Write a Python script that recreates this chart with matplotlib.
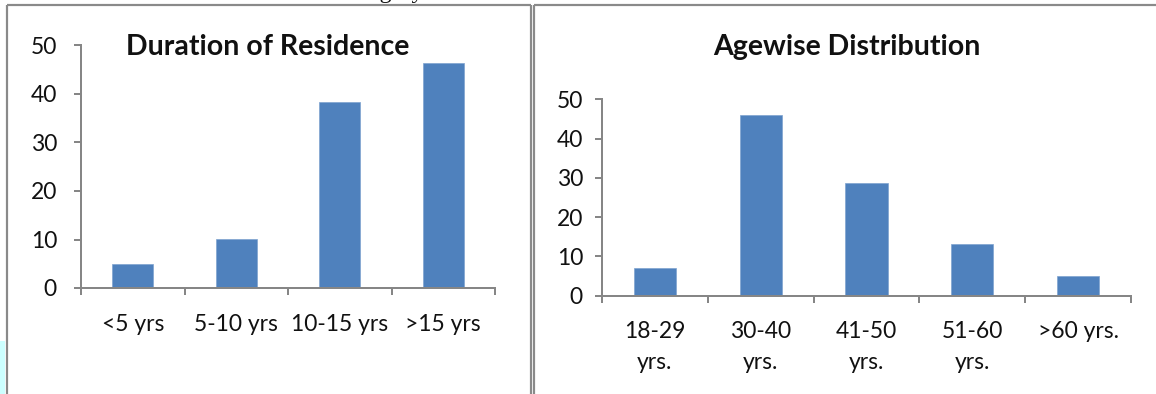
import matplotlib
matplotlib.use("Agg")
import numpy as np
import matplotlib.pyplot as plt
from matplotlib.lines import Line2D
from matplotlib.patches import Rectangle

# Canvas size in pixels
W, H = 1156, 394
DPI = 100

# Data
residence_labels = ["<5 yrs", "5-10 yrs", "10-15 yrs", ">15 yrs"]
residence_values = [5, 10.2, 38.3, 46.4]

age_labels = ["18-29\nyrs.", "30-40\nyrs.", "41-50\nyrs.", "51-60\nyrs.", ">60 yrs."]
age_values = [7.1, 46, 28.6, 13.2, 5]

y_ticks = [0, 10, 20, 30, 40, 50]

BAR = "#4F81BD"
AXIS = "#868686"
FRAME = "#8a8a8a"
TEXT = "#111111"
PX = 72.0 / DPI  # points per pixel

plt.rcParams["font.family"] = ["Lato", "DejaVu Sans"]

fig = plt.figure(figsize=(W / DPI, H / DPI), dpi=DPI)


def fx(x):
    return x / W


def fy(y):
    return 1 - y / H


def px_axes(x0, x1, y_top, y_bot):
    return fig.add_axes([fx(x0), fy(y_bot), (x1 - x0) / W, (y_bot - y_top) / H])


def bar_panel(ax, labels, values, ypad, xpad, linespacing=1.2):
    n = len(labels)
    ax.bar(np.arange(n), values, width=0.4, color=BAR, edgecolor="#7ea3d0",
           linewidth=0.5, zorder=2)
    ax.set_xlim(-0.5, n - 0.5)
    ax.set_ylim(0, 50)
    for side in ("top", "right"):
        ax.spines[side].set_visible(False)
    for side in ("left", "bottom"):
        ax.spines[side].set_color(AXIS)
        ax.spines[side].set_linewidth(2 * PX)
    ax.set_yticks(y_ticks)
    ax.tick_params(axis="y", direction="out", length=7 * PX, width=2 * PX,
                   color=AXIS, labelsize=16.5, pad=ypad, labelcolor=TEXT)
    ax.set_xticks(np.arange(n + 1) - 0.5)
    ax.set_xticklabels([])
    ax.set_xticks(np.arange(n), minor=True)
    ax.set_xticklabels(labels, minor=True)
    ax.tick_params(axis="x", which="major", direction="out", length=7 * PX,
                   width=2 * PX, color=AXIS)
    ax.tick_params(axis="x", which="minor", length=0, labelsize=16.5,
                   pad=xpad, labelcolor=TEXT)
    for t in ax.get_xticklabels(minor=True):
        t.set_linespacing(linespacing)
    ax.patch.set_alpha(0)


# Left panel: duration of residence
ax1 = px_axes(81, 495, 45.5, 288)
bar_panel(ax1, residence_labels, residence_values, ypad=17 * PX, xpad=26 * PX)
fig.text(fx(268), fy(47), "Duration of Residence", ha="center", va="center",
         fontsize=20.5, fontweight="bold", color=TEXT)

# Right panel: agewise distribution
ax2 = px_axes(602, 1131, 99.3, 295.5)
bar_panel(ax2, age_labels, age_values, ypad=12 * PX, xpad=26 * PX,
          linespacing=1.55)
fig.text(fx(847), fy(47), "Agewise Distribution", ha="center", va="center",
         fontsize=20.5, fontweight="bold", color=TEXT)

# Panel frames
lw = 2.2 * PX
frame_lines = [
    ([7, 7], [5, H]), ([7, 531], [5, 5]), ([531, 531], [5, H]),
    ([534, 534], [5, H]), ([534, W], [5, 5]),
]
for xs, ys in frame_lines:
    fig.add_artist(Line2D([fx(v) for v in xs], [fy(v) for v in ys],
                          color=FRAME, linewidth=lw, solid_capstyle="butt"))

# Light cyan strip along the lower left edge
fig.add_artist(Rectangle((0, fy(H)), fx(5), fy(341) - fy(H),
                         transform=fig.transFigure, color="#ccffff", lw=0))

# Running text line above the panels (only its descenders fall on the canvas)
fig.text(fx(341), fy(-2), "category", ha="left", va="baseline",
         fontsize=24 * PX, family="Liberation Serif", color=TEXT)

fig.savefig("out.png", dpi=DPI, facecolor="white")
